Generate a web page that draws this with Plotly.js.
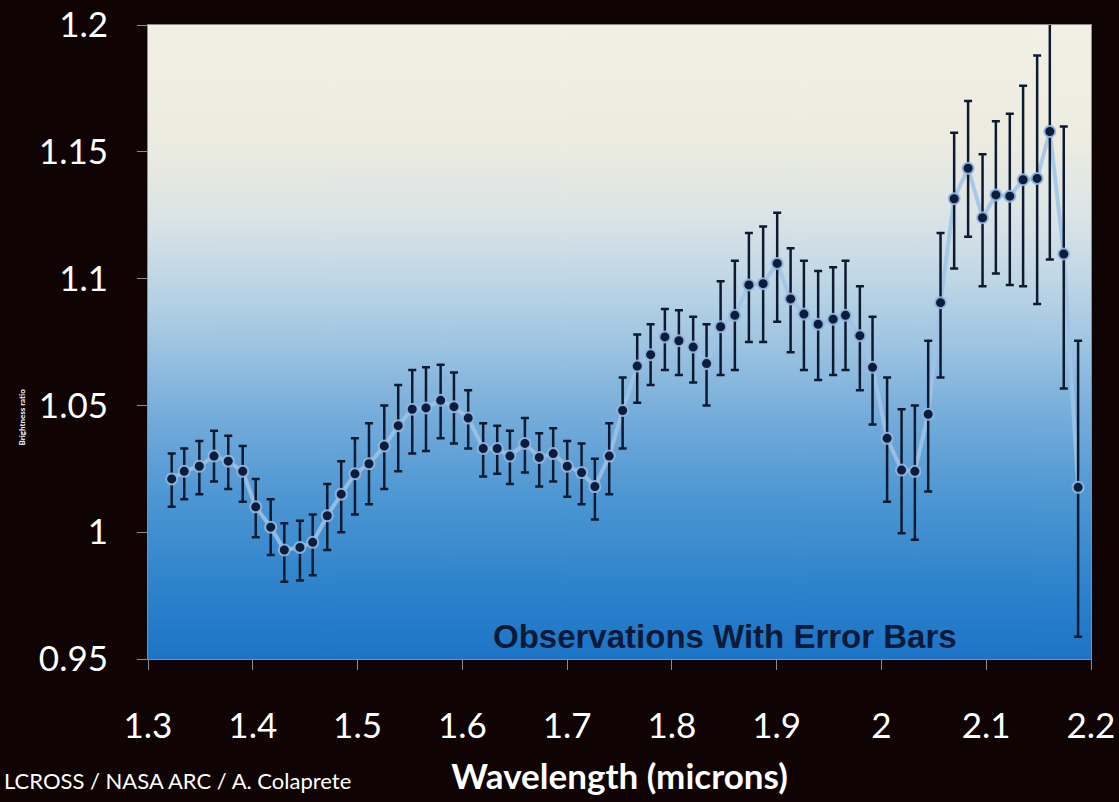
<!DOCTYPE html>
<html>
<head>
<meta charset="utf-8">
<script src="https://cdn.plot.ly/plotly-3.0.1.min.js"></script>
<style>
  html, body { margin: 0; padding: 0; background: #100303; }
  #chart { width: 1119px; height: 802px; }
</style>
</head>
<body>
<div id="chart"></div>
<script>
// Wavelength (microns) of each observation
const wavelength = [
  1.3226, 1.3346, 1.3490, 1.3630, 1.3766, 1.3904, 1.4028, 1.4171, 1.4301, 1.4450,
  1.4572, 1.4711, 1.4844, 1.4975, 1.5109, 1.5255, 1.5388, 1.5522, 1.5653, 1.5793,
  1.5920, 1.6056, 1.6199, 1.6333, 1.6454, 1.6597, 1.6734, 1.6867, 1.7001, 1.7138,
  1.7265, 1.7402, 1.7530, 1.7669, 1.7797, 1.7933, 1.8067, 1.8203, 1.8331, 1.8465,
  1.8601, 1.8735, 1.8871, 1.9005, 1.9133, 1.9260, 1.9396, 1.9539, 1.9657, 1.9794,
  1.9915, 2.0054, 2.0192, 2.0319, 2.0446, 2.0564, 2.0694, 2.0827, 2.0965, 2.1092,
  2.1225, 2.1352, 2.1486, 2.1607, 2.1740, 2.1877
];
// Observed value
const observed = [
  1.021, 1.024, 1.026, 1.030, 1.028, 1.024, 1.010, 1.002, 0.993, 0.994,
  0.996, 1.0065, 1.015, 1.023, 1.027, 1.034, 1.042, 1.0485, 1.049, 1.052,
  1.0495, 1.045, 1.033, 1.033, 1.030, 1.035, 1.0295, 1.031, 1.026, 1.0235,
  1.018, 1.030, 1.048, 1.0655, 1.070, 1.077, 1.0755, 1.073, 1.0665, 1.081,
  1.0855, 1.0975, 1.098, 1.106, 1.092, 1.086, 1.082, 1.084, 1.0855, 1.0775,
  1.065, 1.037, 1.0245, 1.024, 1.0465, 1.0905, 1.1315, 1.1435, 1.124, 1.133,
  1.1325, 1.139, 1.1395, 1.158, 1.1097, 1.0177
];
// Top of each error bar
const errorTop = [
  1.031, 1.033, 1.036, 1.040, 1.038, 1.034, 1.021, 1.013, 1.0035, 1.0045,
  1.007, 1.019, 1.028, 1.037, 1.043, 1.050, 1.058, 1.064, 1.065, 1.066,
  1.063, 1.056, 1.043, 1.042, 1.040, 1.045, 1.039, 1.041, 1.036, 1.035,
  1.029, 1.043, 1.061, 1.078, 1.082, 1.088, 1.0875, 1.085, 1.082, 1.099,
  1.107, 1.118, 1.1205, 1.126, 1.112, 1.107, 1.103, 1.1045, 1.107, 1.097,
  1.085, 1.061, 1.0485, 1.050, 1.0755, 1.118, 1.1575, 1.170, 1.149, 1.162,
  1.165, 1.176, 1.188, 1.21, 1.160, 1.0755
];
// Bottom of each error bar
const errorBottom = [
  1.010, 1.013, 1.015, 1.020, 1.017, 1.012, 0.998, 0.991, 0.9805, 0.981,
  0.983, 0.993, 1.000, 1.007, 1.011, 1.017, 1.024, 1.031, 1.032, 1.037,
  1.035, 1.033, 1.022, 1.023, 1.019, 1.0235, 1.018, 1.020, 1.014, 1.011,
  1.005, 1.015, 1.033, 1.051, 1.058, 1.064, 1.062, 1.059, 1.050, 1.062,
  1.064, 1.075, 1.075, 1.083, 1.071, 1.064, 1.060, 1.062, 1.064, 1.056,
  1.0425, 1.012, 0.9996, 0.997, 1.016, 1.061, 1.104, 1.1165, 1.097, 1.102,
  1.0975, 1.097, 1.090, 1.1075, 1.0567, 0.9588
];
const xTickValues = [1.3, 1.4, 1.5, 1.6, 1.7, 1.8, 1.9, 2.0, 2.1, 2.2];
const xTickLabels = ['1.3', '1.4', '1.5', '1.6', '1.7', '1.8', '1.9', '2', '2.1', '2.2'];
const yTickValues = [0.95, 1.0, 1.05, 1.1, 1.15, 1.2];
const yTickLabels = ['0.95', '1', '1.05', '1.1', '1.15', '1.2'];

const errPlus = observed.map((v, i) => errorTop[i] - v);
const errMinus = observed.map((v, i) => v - errorBottom[i]);

// gradient background for plot area
const cv = document.createElement('canvas');
cv.width = 8; cv.height = 640;
const ctx = cv.getContext('2d');
const g = ctx.createLinearGradient(0, 0, 0, 640);
g.addColorStop(0.00, '#f2f0e4');
g.addColorStop(0.18, '#edece1');
g.addColorStop(0.30, '#dbe4e6');
g.addColorStop(0.40, '#c0d7e6');
g.addColorStop(0.50, '#9fc5e2');
g.addColorStop(0.62, '#74acdb');
g.addColorStop(0.75, '#4c96d3');
g.addColorStop(0.88, '#2f84cc');
g.addColorStop(1.00, '#1c74c6');
ctx.fillStyle = g;
ctx.fillRect(0, 0, 8, 640);
const bgUrl = cv.toDataURL('image/png');

const lineTrace = {
  x: wavelength, y: observed, type: 'scatter', mode: 'lines',
  line: { color: 'rgba(160,195,230,0.85)', width: 4 },
  hoverinfo: 'skip', showlegend: false
};
const pointTrace = {
  x: wavelength, y: observed, type: 'scatter', mode: 'markers',
  marker: { color: '#0c1c3c', size: 11, line: { color: 'rgba(150,185,225,0.9)', width: 2 } },
  error_y: {
    type: 'data', symmetric: false, array: errPlus, arrayminus: errMinus,
    color: '#0e1a30', thickness: 2.5, width: 4
  },
  showlegend: false
};

const tickFont = { family: 'Lato, "Open Sans", sans-serif', size: 35, color: '#ffffff' };

const layout = {
  width: 1119, height: 802,
  margin: { l: 148, r: 28, t: 25, b: 143 },
  paper_bgcolor: '#100303',
  plot_bgcolor: 'rgba(0,0,0,0)',
  showlegend: false,
  images: [{
    source: bgUrl, xref: 'paper', yref: 'paper', x: 0, y: 1, sizex: 1, sizey: 1,
    sizing: 'stretch', layer: 'below', xanchor: 'left', yanchor: 'top'
  }],
  xaxis: {
    range: [1.3, 2.2], tickvals: xTickValues, ticktext: xTickLabels,
    showgrid: false, zeroline: false,
    ticks: 'outside', ticklen: 10, tickcolor: '#8c8c8c', tickwidth: 1,
    showline: true, linecolor: '#8c8c8c', linewidth: 1, mirror: true,
    tickfont: tickFont, ticklabelstandoff: 26,
    title: { text: '<b>Wavelength (microns)</b>', font: { family: 'Lato, "Open Sans", sans-serif', size: 35, color: '#ffffff' }, standoff: 20 }
  },
  yaxis: {
    range: [0.95, 1.2], tickvals: yTickValues, ticktext: yTickLabels,
    showgrid: false, zeroline: false,
    ticks: 'outside', ticklen: 10, tickcolor: '#8c8c8c', tickwidth: 1,
    showline: true, linecolor: '#8c8c8c', linewidth: 1, mirror: true,
    tickfont: tickFont, ticklabelstandoff: 22
  },
  annotations: [
    {
      text: '<b>Observations With Error Bars</b>', xref: 'paper', yref: 'paper',
      x: 0.612, y: 0.036, xanchor: 'center', yanchor: 'middle', showarrow: false,
      font: { family: '"Liberation Sans", Arial, sans-serif', size: 33, color: '#0a1a38' }
    },
    {
      text: 'LCROSS / NASA ARC / A. Colaprete', xref: 'paper', yref: 'paper',
      x: -0.155, y: -0.192, xanchor: 'left', yanchor: 'middle', showarrow: false,
      font: { family: 'Lato, "Open Sans", sans-serif', size: 22, color: '#ffffff' }
    },
    {
      text: '<b>Brightness ratio</b>', xref: 'paper', yref: 'y',
      x: -0.134, y: 1.0455, xanchor: 'center', yanchor: 'middle', showarrow: false,
      textangle: -90,
      font: { family: 'Lato, sans-serif', size: 8, color: '#ffffff' }
    }
  ]
};

Plotly.newPlot('chart', [lineTrace, pointTrace], layout, { displayModeBar: false, staticPlot: true });
</script>
</body>
</html>
